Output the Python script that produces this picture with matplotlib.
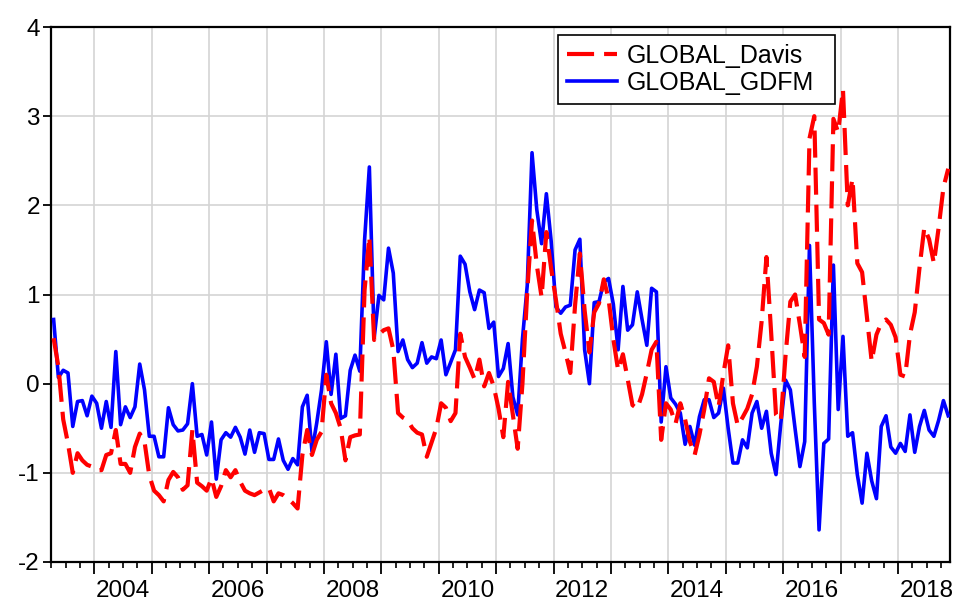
import numpy as np
import pandas as pd
import matplotlib
matplotlib.use("Agg")
import matplotlib.pyplot as plt
from matplotlib.lines import Line2D
import matplotlib.transforms as mtransforms

plt.rcParams['font.family'] = ['Liberation Sans', 'DejaVu Sans']
plt.rcParams['axes.unicode_minus'] = False

# monthly sample 2003M04 - 2018M11
start = "2003-04"
n_obs = 188

global_davis = [
    0.51, 0.19, -0.40, -0.67, -1.00, -0.78, -0.86, -0.91, -0.93, -0.97,
    -0.97, -0.80, -0.78, -0.52, -0.90, -0.90, -1.00, -0.71, -0.56, -0.65,
    -1.03, -1.20, -1.25, -1.32, -1.08, -0.99, -1.05, -1.19, -1.14, -0.52,
    -1.11, -1.15, -1.20, -1.06, -1.27, -1.15, -0.97, -1.05, -0.97, -1.10,
    -1.20, -1.23, -1.25, -1.22, -1.19, -1.17, -1.32, -1.23, -1.25, -1.29,
    -1.34, -1.40, -0.80, -0.52, -0.80, -0.63, -0.54, 0.10, -0.22, -0.33,
    -0.50, -0.86, -0.60, -0.58, -0.57, 1.05, 1.65, 0.49, 0.55, 0.60,
    0.62, 0.38, -0.33, -0.38, -0.41, -0.50, -0.55, -0.57, -0.82, -0.66,
    -0.50, -0.22, -0.27, -0.42, -0.33, 0.56, 0.30, 0.18, 0.05, 0.27,
    -0.03, 0.12, -0.03, -0.28, -0.60, 0.02, -0.35, -0.73, 0.00, 1.03,
    1.83, 1.33, 0.97, 1.70, 1.29, 0.94, 0.56, 0.35, 0.12, 0.88,
    1.46, 0.82, 0.35, 0.80, 0.90, 1.17, 0.95, 0.50, 0.15, 0.33,
    0.05, -0.24, -0.28, -0.12, 0.12, 0.38, 0.47, -0.63, -0.22, -0.29,
    -0.45, -0.22, -0.40, -0.65, -0.80, -0.57, -0.29, 0.06, 0.02, -0.26,
    0.11, 0.43, -0.22, -0.47, -0.38, -0.28, -0.12, 0.19, 0.70, 1.42,
    0.56, -0.35, -0.42, 0.32, 0.92, 1.00, 0.66, 0.30, 2.75, 3.00,
    0.72, 0.68, 0.55, 2.97, 2.82, 3.30, 2.00, 2.30, 1.35, 1.25,
    0.75, 0.25, 0.55, 0.68, 0.72, 0.66, 0.52, 0.10, 0.08, 0.55,
    0.80, 1.30, 1.75, 1.62, 1.35, 1.75, 2.20, 2.41,
]

global_gdfm = [
    0.72, 0.07, 0.15, 0.12, -0.48, -0.20, -0.19, -0.36, -0.14, -0.22,
    -0.50, -0.20, -0.49, 0.36, -0.46, -0.26, -0.38, -0.26, 0.22, -0.07,
    -0.59, -0.59, -0.82, -0.82, -0.27, -0.46, -0.53, -0.52, -0.45, 0.00,
    -0.59, -0.57, -0.80, -0.43, -1.07, -0.63, -0.55, -0.60, -0.49, -0.60,
    -0.79, -0.52, -0.77, -0.55, -0.56, -0.85, -0.85, -0.62, -0.86, -0.96,
    -0.84, -0.91, -0.26, -0.13, -0.76, -0.44, -0.07, 0.47, -0.12, 0.33,
    -0.39, -0.36, 0.15, 0.32, 0.14, 1.61, 2.43, 0.51, 0.99, 0.94,
    1.52, 1.24, 0.36, 0.49, 0.27, 0.18, 0.23, 0.46, 0.23, 0.30,
    0.28, 0.49, 0.10, 0.24, 0.38, 1.43, 1.34, 1.03, 0.83, 1.05,
    1.02, 0.62, 0.69, 0.08, 0.17, 0.45, -0.15, -0.35, 0.50, 1.10,
    2.59, 1.95, 1.57, 2.13, 1.60, 0.86, 0.79, 0.86, 0.88, 1.50,
    1.62, 0.38, 0.00, 0.91, 0.92, 1.14, 1.18, 0.89, 0.38, 1.09,
    0.60, 0.66, 1.03, 0.72, 0.43, 1.07, 1.03, -0.43, 0.19, -0.16,
    -0.23, -0.33, -0.68, -0.48, -0.69, -0.37, -0.18, -0.18, -0.38, -0.33,
    -0.05, -0.50, -0.89, -0.89, -0.63, -0.72, -0.33, -0.20, -0.50, -0.31,
    -0.78, -1.02, -0.45, 0.04, -0.07, -0.51, -0.93, -0.65, 1.55, -0.21,
    -1.64, -0.67, -0.62, 1.33, -0.29, 0.53, -0.59, -0.55, -1.02, -1.34,
    -0.78, -1.09, -1.29, -0.48, -0.36, -0.71, -0.78, -0.67, -0.76, -0.35,
    -0.77, -0.48, -0.30, -0.52, -0.59, -0.41, -0.19, -0.36,
]

label_years = [2004, 2006, 2008, 2010, 2012, 2014, 2016, 2018]

months = pd.period_range(start, periods=n_obs, freq="M")
x = months.year + (months.month - 0.5) / 12.0

red_dash = (6.5, 2.4)

fig = plt.figure(figsize=(9.56, 6.01), dpi=100)
ax = fig.add_axes([51 / 956, 1 - 562 / 601, 899 / 956, 535 / 601])

ax.plot(x, global_gdfm, color="#0000ff", lw=2.6, zorder=3)
ax.plot(x, global_davis, color="#ff0000", lw=3.0, dashes=red_dash, zorder=4)

ax.set_xlim(2003.246, 2018.906)
ax.set_ylim(-2, 4)

# grid + ticks (EViews look)
ax.set_xticks(np.arange(2004, 2019))
ax.set_xticklabels([])
ax.set_xticks(np.arange(2003.25, 2019, 0.25), minor=True)
ax.set_yticks(np.arange(-2, 5))
ax.grid(True, which="major", color="#d4d4d4", lw=1.2, zorder=0)
ax.set_axisbelow(True)
ax.tick_params(axis="x", which="major", direction="out", length=8.5, width=1.3)
ax.tick_params(axis="x", which="minor", direction="out", length=4.3, width=1.2)
ax.tick_params(axis="y", direction="out", length=6, width=1.3, pad=2, labelsize=17.5)
for s in ax.spines.values():
    s.set_linewidth(1.6)
    s.set_color("black")

trans = mtransforms.blended_transform_factory(ax.transData, ax.transAxes)
for yr in label_years:
    ax.text(yr + 0.5, -0.065, str(yr), transform=trans, ha="center",
            va="baseline", fontsize=17.5)

handles = [
    Line2D([], [], color="#ff0000", lw=3.0, dashes=red_dash),
    Line2D([], [], color="#0000ff", lw=2.6),
]
leg = ax.legend(handles, ["GLOBAL_Davis", "GLOBAL_GDFM"], loc="upper left",
                bbox_to_anchor=(0.564, 0.855, 0.308, 0.13), mode="expand",
                fontsize=18, frameon=True,
                fancybox=False, edgecolor="black", framealpha=1,
                handlelength=2.0, handletextpad=0.4, labelspacing=0.12,
                borderpad=0.35, borderaxespad=0)
leg.get_frame().set_linewidth(1.2)

fig.savefig("out.png", dpi=100)
